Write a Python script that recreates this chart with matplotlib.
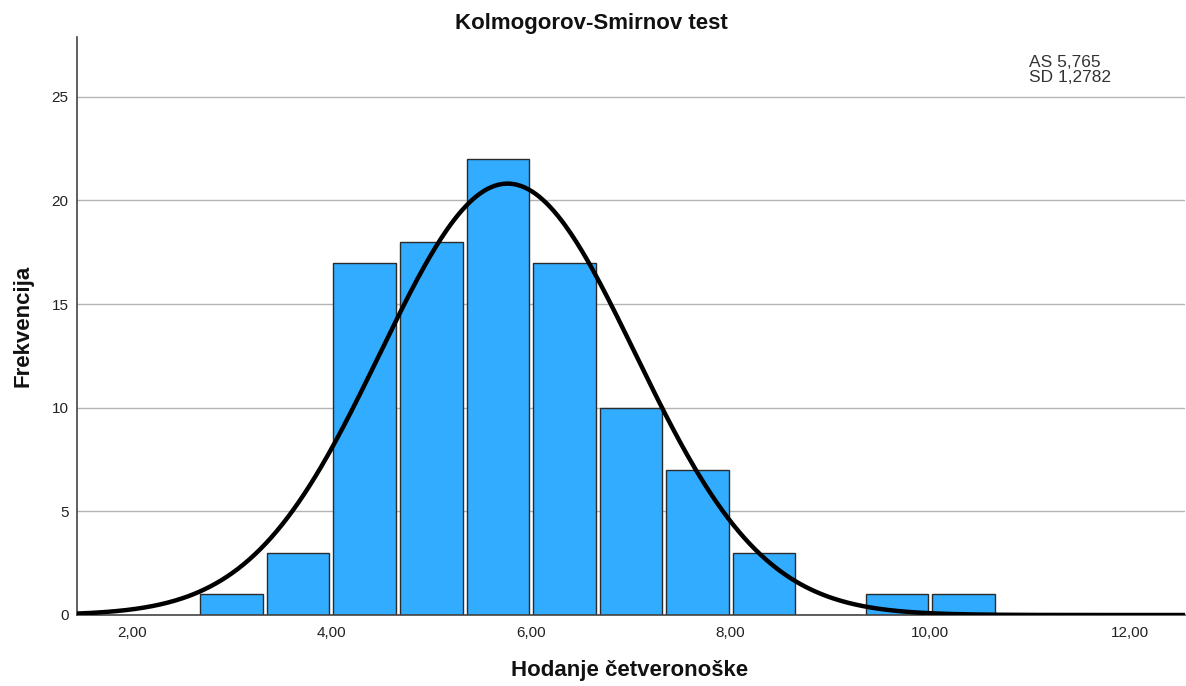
import numpy as np
import matplotlib
matplotlib.use("Agg")
import matplotlib.pyplot as plt

plt.rcParams['font.family'] = ['Liberation Sans', 'DejaVu Sans']

# Data
bin_centers = [3.0, 3.6667, 4.3333, 5.0, 5.6667, 6.3333, 7.0, 7.6667, 8.3333, 9.0, 9.6667, 10.3333]
counts = [1, 3, 17, 18, 22, 17, 10, 7, 3, 0, 1, 1]
bin_width = 2.0 / 3.0
mean_val = 5.765
sd_val = 1.2782
n_total = sum(counts)
x_ticks = [2, 4, 6, 8, 10, 12]
x_tick_labels = ["2,00", "4,00", "6,00", "8,00", "10,00", "12,00"]
y_ticks = [0, 5, 10, 15, 20, 25]

fig = plt.figure(figsize=(11.86, 6.86), dpi=100)
ax = fig.add_axes([0.0649, 0.1035, 0.934, 0.842])

# grid
for yv in y_ticks[1:]:
    ax.axhline(yv, color='#b4b4b4', lw=1.0, zorder=0)

# bars
bar_w = bin_width * 0.94
ax.bar(bin_centers, counts, width=bar_w, color='#31acff', edgecolor='#2b2b2b',
       linewidth=1.0, zorder=2)

# normal curve
xs = np.linspace(1.45, 12.55, 600)
ys = n_total * bin_width / (sd_val * np.sqrt(2 * np.pi)) * np.exp(-0.5 * ((xs - mean_val) / sd_val) ** 2)
ax.plot(xs, ys, color='black', lw=3.2, zorder=3, solid_capstyle='round')

ax.set_xlim(1.45, 12.55)
ax.set_ylim(0, 27.86)
ax.set_xticks(x_ticks)
ax.set_xticklabels(x_tick_labels)
ax.set_yticks(y_ticks)
ax.tick_params(axis='both', length=0, labelsize=11, colors='#222222', pad=8)
ax.tick_params(axis='y', pad=6)

for s in ['top', 'right']:
    ax.spines[s].set_visible(False)
for s in ['left', 'bottom']:
    ax.spines[s].set_color('#444444')
    ax.spines[s].set_linewidth(1.2)

fig.text(0.499, 0.966, "Kolmogorov-Smirnov test", ha='center', va='center',
         fontsize=16, fontweight='bold', color='#111111')
fig.text(0.531, 0.0219, "Hodanje četveronoške", ha='center', va='center',
         fontsize=16, fontweight='bold', color='#111111')
fig.text(0.0197, 0.525, "Frekvencija", ha='center', va='center', rotation=90,
         fontsize=16, fontweight='bold', color='#111111')
fig.text(0.868, 0.898, "AS 5,765\nSD 1,2782", ha='left', va='center',
         fontsize=12.5, color='#333333', linespacing=1.05)

fig.savefig("out.png", dpi=100)
